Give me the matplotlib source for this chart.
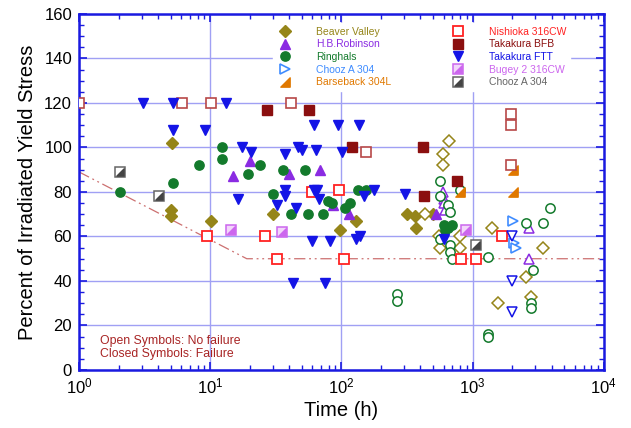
import matplotlib
matplotlib.use("Agg")
from matplotlib import pyplot as plt
from matplotlib.path import Path
from matplotlib.legend_handler import HandlerTuple
from matplotlib import ticker
import numpy as np

plt.rcParams['font.family'] = ['Liberation Sans', 'DejaVu Sans']

# ---- data (time in h, percent of irradiated yield stress) ----
bv_closed_x = [5.1, 5.0, 5.0, 10.2, 30, 97, 128, 315, 366, 370, 500]
bv_closed_y = [102, 72, 69, 67, 70, 63, 67, 70, 69, 64, 70]
bv_open_x = [655, 590, 590, 430, 550, 560, 800, 800, 1400, 1550, 2570, 2800, 3460]
bv_open_y = [103, 97, 92, 70, 60, 55, 60, 55, 64, 30, 42, 33, 55]

hbr_closed_x = [15, 20, 40, 69, 87, 115, 530]
hbr_closed_y = [87, 94, 88, 90, 74, 70, 70]
hbr_open_x = [590, 600, 610, 620, 2700, 2700]
hbr_open_y = [80, 77, 75, 72, 64, 50]

rh_closed_x = [2.06, 5.2, 8.2, 12.4, 12.4, 19.5, 24, 30, 36, 53, 41, 56, 73, 79, 85,
               106, 117, 134, 155, 600, 650, 700, 620]
rh_closed_y = [80, 84, 92, 100, 95, 88, 92, 79, 90, 90, 70, 70, 70, 76, 75,
               73, 75, 81, 81, 65, 64, 65, 63]
rh_open_x = [560, 565, 800, 650, 670, 560, 670, 670, 700, 1300, 1300, 1300,
             2550, 3460, 3900, 2860, 2800, 2800, 267, 267]
rh_open_y = [85, 78, 81, 74, 71, 59, 56, 53, 50, 51, 16, 15,
             66, 66, 73, 45, 30, 28, 34, 31]

chooz_open_x = [2040, 2060, 2150]
chooz_open_y = [67, 57, 55]

bars_x = [800, 2040, 2040]
bars_y = [80, 90, 80]

nish_open_x = [9.4, 26, 32, 105, 95, 60, 818, 1060, 1670]
nish_open_y = [60, 60, 50, 50, 81, 80, 50, 50, 60]

bfb_closed_x = [27, 57, 120, 415, 765, 428]
bfb_closed_y = [117, 117, 100, 100, 85, 78]
bfb_open_x = [1.0, 6.1, 10.2, 41, 155, 1960, 1960, 1960]
bfb_open_y = [120, 120, 120, 120, 98, 115, 110, 92]

ftt_closed_x = [3.1, 5.2, 13.3, 5.2, 9.1, 17.4, 20.3, 16.4, 37, 37, 37, 32, 45, 47,
                43, 75, 62, 94, 135, 50, 64, 101, 62, 65, 68, 148, 178, 303,
                60, 82, 130, 139, 600]
ftt_closed_y = [120, 120, 120, 108, 108, 100, 98, 77, 97, 81, 78, 74, 73, 100,
                39, 39, 110, 110, 110, 99, 99, 98, 81, 81, 77, 78, 81, 79,
                58, 58, 59, 60, 59]
ftt_open_x = [1980, 1980, 1980]
ftt_open_y = [60, 40, 26]

bugey_x = [14.3, 35, 890]
bugey_y = [63, 62, 63]

chooz2_x = [2.06, 4.1, 1060]
chooz2_y = [89, 78, 56]

limit_x = [1, 19, 10000]
limit_y = [89, 50, 50]

# ---- colours ----
c_bv = '#958519'
c_hbr = '#8a2be2'
c_rh = '#137a2c'
c_chooz = '#3f8cff'
c_bars = '#e07800'
c_nish = '#ff2222'
c_bfb = '#8b0f0f'
c_bfb_open = '#b84848'
c_ftt = '#1414e6'
c_bugey = '#cc66ee'
c_chooz2 = '#666666'
c_axis = '#1a1ae0'

tri_lr = Path([(1, -1), (1, 1), (-1, -1), (1, -1)],
              [Path.MOVETO, Path.LINETO, Path.LINETO, Path.CLOSEPOLY])

fig = plt.figure(figsize=(6.31, 4.28), dpi=100)
ax = fig.add_axes([0.1252, 0.1355, 0.8318, 0.832])
ax.set_xscale('log')
ax.set_xlim(1, 1e4)
ax.set_ylim(0, 160)

ax.plot(limit_x, limit_y, color='#cc7070', lw=0.9,
        dashes=(9, 3, 1.5, 3, 1.5, 3), zorder=2)

ms = 6.7
kw = dict(linestyle='none', zorder=3)
h_bv = ax.plot(bv_closed_x, bv_closed_y, marker='D', ms=5.7, color=c_bv, **kw)[0]
ax.plot(bv_open_x, bv_open_y, marker='D', ms=5.7, mfc='white', mec=c_bv, mew=1.1, **kw)
h_hbr = ax.plot(hbr_closed_x, hbr_closed_y, marker='^', ms=ms + 0.5, color=c_hbr, **kw)[0]
ax.plot(hbr_open_x, hbr_open_y, marker='^', ms=ms + 0.5, mfc='white', mec=c_hbr, mew=1.1, **kw)
h_rh = ax.plot(rh_closed_x, rh_closed_y, marker='o', ms=ms, color=c_rh, **kw)[0]
ax.plot(rh_open_x, rh_open_y, marker='o', ms=ms, mfc='white', mec=c_rh, mew=1.1, **kw)
h_chooz = ax.plot(chooz_open_x, chooz_open_y, marker='>', ms=ms, mfc='white',
                  mec=c_chooz, mew=1.2, **kw)[0]
h_bars = ax.plot(bars_x, bars_y, marker=tri_lr, ms=ms, color=c_bars, **kw)[0]
h_nish = ax.plot(nish_open_x, nish_open_y, marker='s', ms=ms, mfc='white',
                 mec=c_nish, mew=1.3, **kw)[0]
h_bfb = ax.plot(bfb_closed_x, bfb_closed_y, marker='s', ms=ms, color=c_bfb, **kw)[0]
ax.plot(bfb_open_x, bfb_open_y, marker='s', ms=ms, mfc='white', mec=c_bfb_open, mew=1.2, **kw)
h_ftt = ax.plot(ftt_closed_x, ftt_closed_y, marker='v', ms=ms + 0.5, color=c_ftt, **kw)[0]
ax.plot(ftt_open_x, ftt_open_y, marker='v', ms=ms + 0.5, mfc='white', mec=c_ftt, mew=1.1, **kw)
h_bug1 = ax.plot(bugey_x, bugey_y, marker='s', ms=ms, mfc='#f2d6fa', mec=c_bugey, mew=1.1, **kw)[0]
h_bug2 = ax.plot(bugey_x, bugey_y, marker=tri_lr, ms=ms - 1.5, color=c_bugey, **kw)[0]
h_ch1 = ax.plot(chooz2_x, chooz2_y, marker='s', ms=ms, mfc='white', mec=c_chooz2, mew=1.1, **kw)[0]
h_ch2 = ax.plot(chooz2_x, chooz2_y, marker=tri_lr, ms=ms - 1.5, color='#444444', **kw)[0]

# axes styling
for s in ax.spines.values():
    s.set_color(c_axis)
    s.set_linewidth(1.8)
ax.tick_params(which='both', direction='in', top=True, right=True, color=c_axis,
               labelsize=12, pad=5)
ax.tick_params(which='major', length=6, width=1.2)
ax.tick_params(which='minor', length=3.5, width=1.0)
ax.yaxis.set_major_locator(ticker.MultipleLocator(20))
ax.yaxis.set_minor_locator(ticker.MultipleLocator(5))
ax.xaxis.set_major_locator(ticker.LogLocator(base=10, numticks=10))
ax.xaxis.set_minor_locator(ticker.LogLocator(base=10, subs=np.arange(2, 10), numticks=10))
ax.xaxis.set_minor_formatter(ticker.NullFormatter())
ax.xaxis.set_major_formatter(ticker.FuncFormatter(
    lambda v, p: r'$\mathregular{10^{%d}}$' % round(np.log10(v))))
ax.grid(which='major', color='#a0a0f4', lw=1.0, zorder=1)
ax.set_axisbelow(True)

ax.set_xlabel('Time (h)', fontsize=14.5, labelpad=3)
ax.set_ylabel('Percent of Irradiated Yield Stress', fontsize=14.5, labelpad=5)

ax.text(0.04, 0.027, 'Open Symbols: No failure\nClosed Symbols: Failure',
        transform=ax.transAxes, fontsize=8.8, color='#a82424',
        linespacing=1.2, va='bottom', ha='left')

handles = [h_bv, h_hbr, h_rh, h_chooz, h_bars,
           h_nish, h_bfb, h_ftt, (h_bug1, h_bug2), (h_ch1, h_ch2)]
labels = ['Beaver Valley', 'H.B.Robinson', 'Ringhals', 'Chooz A 304', 'Barseback 304L',
          'Nishioka 316CW', 'Takakura BFB', 'Takakura FTT', 'Bugey 2 316CW', 'Chooz A 304']
tcolors = [c_bv, c_hbr, c_rh, c_chooz, c_bars,
           c_nish, c_bfb, c_ftt, c_bugey, c_chooz2]
leg = ax.legend(handles, labels, ncol=2, loc='upper left', bbox_to_anchor=(0.36, 0.99),
                fontsize=7.5, frameon=True, facecolor='white', edgecolor='white',
                framealpha=1, handlelength=1.5, handletextpad=2.2, columnspacing=5.7,
                labelspacing=0.25, borderpad=0.4,
                handler_map={tuple: HandlerTuple(ndivide=1)})
for t, c in zip(leg.get_texts(), tcolors):
    t.set_color(c)

fig.savefig('out.png', dpi=100)
